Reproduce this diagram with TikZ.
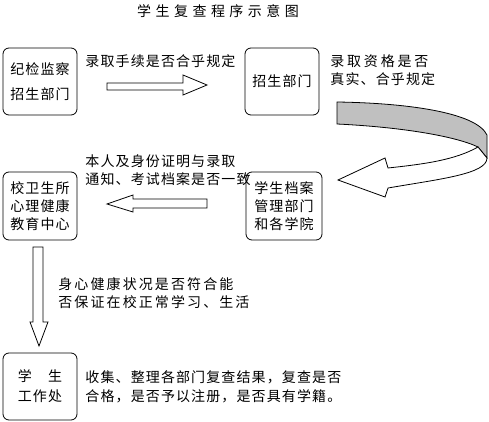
\documentclass[tikz,border=0pt]{standalone}
\usepackage{fontspec}
\newfontfamily\cjk[LetterSpace=8]{Noto Sans CJK SC}
\newfontfamily\cjkwide[LetterSpace=20]{Noto Sans CJK SC}
\newfontfamily\cjkmid[LetterSpace=15]{Noto Sans CJK SC}
\newfontfamily\cjktitle[LetterSpace=32]{Noto Sans CJK SC}
\begin{document}
\begin{tikzpicture}[x=1pt,y=-1pt,line width=0.8pt,
  box/.style={draw,rounded corners=6pt,minimum width=74pt,minimum height=67pt,inner sep=0pt,align=center,font=\cjk\fontsize{14}{18}\selectfont},
  lbl/.style={anchor=north west,inner sep=0pt,align=left,font=\cjk\fontsize{14}{18}\selectfont},
  blockarrow/.style={draw,fill=white,line join=miter}]
\useasboundingbox (0,0) rectangle (489,422);
\node[font=\cjktitle\fontsize{14}{16}\selectfont,inner sep=0pt] (title) at (218,11) {学生复查程序示意图};
% boxes
\node[box,font=\cjk\fontsize{14}{25}\selectfont] (jijian) at (40,81.5) {纪检监察\\招生部门};
\node[box] (zhaosheng) at (282,81.5) {招生部门};
\node[box,minimum width=76pt,minimum height=68pt] (dangan) at (284,206) {学生档案\\管理部门\\和各学院};
\node[box,minimum height=68pt] (weisheng) at (40,206) {校卫生所\\心理健康\\教育中心};
\node[box,font=\cjk\fontsize{14}{20}\selectfont] (xuegong) at (40,386.5) {学　生\\工作处};
% labels
\node[lbl] (l1) at (85,54) {录取手续是否合乎规定};
\node[lbl] (l2) at (330,54) {{\cjkwide 录取资格是否}\\真实、合乎规定};
\node[lbl] (l3) at (85,154) {本人及身份证明与录取\\通知、考试档案是否一致};
\node[lbl,font=\cjkmid\fontsize{14}{18}\selectfont] (l4) at (58,277) {身心健康状况是否符合能\\否保证在校正常学习、生活};
\node[lbl,font=\cjk\fontsize{14}{19}\selectfont] (l5) at (85,370) {收集、整理各部门复查结果，复查是否\\合格，是否予以注册，是否具有学籍。};
% block arrows
\draw[blockarrow] (107,83) -- (183,83) -- (183,75) -- (207,85) -- (183,95) -- (183,90) -- (107,90) -- cycle;
\draw[blockarrow] (207,199) -- (133,199) -- (133,195) -- (107,204) -- (133,212) -- (133,208) -- (207,208) -- cycle;
\draw[blockarrow] (33,247) -- (43,247) -- (43,322) -- (48,322) -- (39,346) -- (30,322) -- (33,322) -- cycle;
% ribbon arrow
\draw[fill={rgb,255:red,192;green,192;blue,192},line join=miter] (337,102) .. controls (405,103) and (476,112) .. (487,135) -- (487,158) -- (478,147) .. controls (455,136) and (400,127) .. (337,124) -- cycle;
\draw[blockarrow] (478,147) .. controls (455,160) and (425,164) .. (388,168) -- (385,158) -- (338,180) -- (385,197) -- (388,188) .. controls (440,179) and (487,174) .. (487,158) -- cycle;
\end{tikzpicture}
\end{document}
